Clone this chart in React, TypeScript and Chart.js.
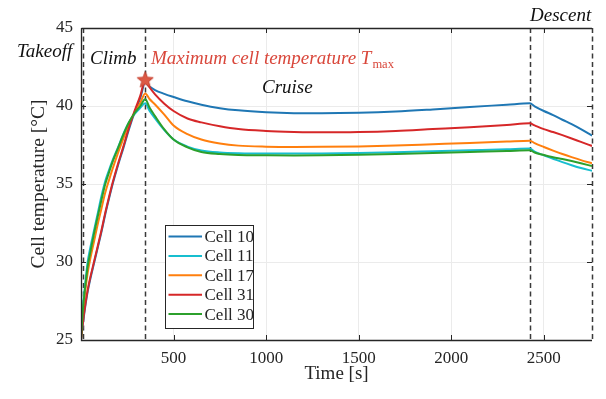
import React, { useEffect, useRef } from "react";
import { Chart, registerables } from "chart.js";

Chart.register(...registerables);

// Mission time stamps [s]: climb, cruise, descent
const timeS = [
  0, 10, 20, 36, 50, 70, 90, 110, 130, 150, 170, 200, 230, 260, 290, 320, 347,
  370, 400, 450, 500, 575, 650, 750, 850, 1000, 1150, 1300, 1500, 1700, 1900, 2100, 2300, 2424,
  2450, 2500, 2550, 2600, 2650, 2700, 2760,
];

// Cell temperatures [°C]
const cell10 = [
  25, 26.0, 26.9, 28.1, 28.9, 29.9, 30.9, 31.9, 33.0, 34.0, 34.95, 36.2, 37.35, 38.55, 39.6, 40.5, 41.5,
  41.25, 41.02, 40.78, 40.58, 40.3, 40.08, 39.86, 39.72, 39.6, 39.54, 39.53, 39.56, 39.64, 39.78, 39.94, 40.08, 40.17,
  39.98, 39.68, 39.42, 39.12, 38.84, 38.52, 38.1,
];
const cell11 = [
  25, 27.1, 28.3, 30.0, 30.9, 32.0, 33.1, 34.2, 35.15, 35.85, 36.5, 37.35, 38.25, 38.98, 39.5, 39.88, 40.17,
  39.7, 39.2, 38.45, 37.85, 37.4, 37.15, 37.02, 36.97, 36.95, 36.95, 36.96, 36.99, 37.04, 37.1, 37.16, 37.22, 37.27,
  37.08, 36.84, 36.62, 36.4, 36.2, 36.02, 35.85,
];
const cell17 = [
  25, 26.6, 27.8, 29.3, 30.2, 31.3, 32.4, 33.4, 34.4, 35.2, 35.95, 37.0, 37.95, 38.9, 39.6, 40.2, 40.8,
  40.45, 40.1, 39.45, 38.75, 38.2, 37.85, 37.6, 37.46, 37.39, 37.37, 37.38, 37.41, 37.47, 37.55, 37.63, 37.72, 37.78,
  37.62, 37.37, 37.14, 36.92, 36.72, 36.53, 36.33,
];
const cell31 = [
  25, 26.1, 27.0, 28.2, 29.0, 30.0, 31.0, 32.0, 33.1, 34.1, 35.05, 36.3, 37.45, 38.65, 39.7, 40.65, 41.65,
  41.2, 40.75, 40.15, 39.68, 39.2, 38.95, 38.7, 38.52, 38.4, 38.34, 38.31, 38.33, 38.4, 38.52, 38.64, 38.78, 38.89,
  38.76, 38.52, 38.33, 38.13, 37.92, 37.7, 37.44,
];
const cell30 = [
  25, 26.9, 28.1, 29.7, 30.6, 31.8, 32.9, 33.95, 34.95, 35.7, 36.4, 37.3, 38.2, 38.98, 39.55, 40.0, 40.43,
  39.9, 39.35, 38.5, 37.85, 37.35, 37.05, 36.92, 36.86, 36.84, 36.83, 36.84, 36.87, 36.92, 36.98, 37.05, 37.11, 37.16,
  37.02, 36.86, 36.72, 36.6, 36.47, 36.33, 36.15,
];

const seriesNames = ["Cell 10", "Cell 11", "Cell 17", "Cell 31", "Cell 30"];
const seriesValues = [cell10, cell11, cell17, cell31, cell30];
const seriesColors = ["#1f77b4", "#17becf", "#ff7f0e", "#d62728", "#2ca02c"];

const xTicks = [500, 1000, 1500, 2000, 2500];
const yTicks = [25, 30, 35, 40, 45];
// Phase boundaries [s]: takeoff, end of climb, start of descent, end of flight
const phaseBounds = [9, 347, 2424, 2760];

const SERIF = '"Liberation Serif", "Times New Roman", serif';
const INK = "#262626";
const RED_TEXT = "#d9473b";

function makeStar(): HTMLCanvasElement {
  const c = document.createElement("canvas");
  c.width = 20;
  c.height = 20;
  const g = c.getContext("2d")!;
  g.beginPath();
  for (let k = 0; k < 10; k++) {
    const r = k % 2 === 0 ? 8.5 : 3.7;
    const a = -Math.PI / 2 + (k * Math.PI) / 5;
    const px = 10 + r * Math.cos(a);
    const py = 10 + r * Math.sin(a);
    if (k === 0) g.moveTo(px, py);
    else g.lineTo(px, py);
  }
  g.closePath();
  g.fillStyle = "#dc5a45";
  g.fill();
  g.strokeStyle = "#c8402f";
  g.lineWidth = 1;
  g.stroke();
  return c;
}

export default function App() {
  const ref = useRef<HTMLCanvasElement | null>(null);

  useEffect(() => {
    if (!ref.current) return;

    // Highest temperature reached across all cells
    let peakT = 0;
    let peakV = -Infinity;
    seriesValues.forEach((vals) =>
      vals.forEach((v, j) => {
        if (v > peakV) {
          peakV = v;
          peakT = timeS[j];
        }
      })
    );

    const lineSets = seriesValues.map((vals, i) => ({
      type: "line" as const,
      label: seriesNames[i],
      data: timeS.map((t, j) => ({ x: t, y: vals[j] })),
      borderColor: seriesColors[i],
      backgroundColor: seriesColors[i],
      borderWidth: 2,
      pointRadius: 0,
      cubicInterpolationMode: "monotone" as const,
      fill: false,
      order: 10 - i,
    }));

    const starSet = {
      type: "line" as const,
      label: "Tmax",
      data: [{ x: peakT, y: peakV }],
      showLine: false,
      pointStyle: makeStar(),
      pointRadius: 9,
      order: 0,
    };

    const overlay = {
      id: "overlay",
      beforeDatasetsDraw(chart: any) {
        const { ctx, chartArea: a, scales } = chart;
        ctx.save();
        ctx.strokeStyle = "#3a3a3a";
        ctx.lineWidth = 1.5;
        ctx.setLineDash([5, 3.5]);
        phaseBounds.forEach((t) => {
          const x = Math.round(scales.x.getPixelForValue(t)) + 0.5;
          ctx.beginPath();
          ctx.moveTo(x, a.top);
          ctx.lineTo(x, a.bottom);
          ctx.stroke();
        });
        ctx.restore();
      },
      afterDatasetsDraw(chart: any) {
        const { ctx, chartArea: a, scales } = chart;
        ctx.save();
        ctx.strokeStyle = INK;
        ctx.lineWidth = 1.3;
        ctx.setLineDash([]);
        ctx.beginPath();
        ctx.moveTo(a.left + 0.5, a.top + 0.5);
        ctx.lineTo(a.right, a.top + 0.5);
        ctx.moveTo(a.left + 0.5, a.top);
        ctx.lineTo(a.left + 0.5, a.bottom + 0.5);
        ctx.lineTo(a.right, a.bottom + 0.5);
        ctx.stroke();
        // inward ticks
        ctx.lineWidth = 1;
        ctx.beginPath();
        xTicks.forEach((v) => {
          const x = Math.round(scales.x.getPixelForValue(v)) + 0.5;
          ctx.moveTo(x, a.bottom);
          ctx.lineTo(x, a.bottom - 5);
          ctx.moveTo(x, a.top);
          ctx.lineTo(x, a.top + 5);
        });
        yTicks.forEach((v) => {
          const y = Math.round(scales.y.getPixelForValue(v)) + 0.5;
          ctx.moveTo(a.left, y);
          ctx.lineTo(a.left + 5, y);
          ctx.moveTo(a.right, y);
          ctx.lineTo(a.right - 5, y);
        });
        ctx.stroke();
        ctx.restore();
      },
      afterDraw(chart: any) {
        const { ctx } = chart;
        ctx.save();
        ctx.textBaseline = "alphabetic";
        ctx.textAlign = "left";
        ctx.font = `italic 19px ${SERIF}`;
        ctx.fillStyle = "#111";
        ctx.fillText("Takeoff", 17, 57);
        ctx.fillText("Climb", 90, 64);
        ctx.fillText("Cruise", 262, 93);
        ctx.fillText("Descent", 530, 21);

        ctx.fillStyle = RED_TEXT;
        const head = "Maximum cell temperature ";
        ctx.fillText(head, 151, 64);
        let x = 151 + ctx.measureText(head).width;
        ctx.fillText("T", x, 64);
        x += ctx.measureText("T").width + 1;
        ctx.font = `12.5px ${SERIF}`;
        ctx.fillText("max", x, 68);

        // legend
        const lx = 165.5, ly = 225.5, lw = 88, lh = 103;
        ctx.fillStyle = "#ffffff";
        ctx.fillRect(lx, ly, lw, lh);
        ctx.strokeStyle = INK;
        ctx.lineWidth = 1;
        ctx.strokeRect(lx, ly, lw, lh);
        ctx.font = `17px ${SERIF}`;
        ctx.textBaseline = "middle";
        seriesNames.forEach((name, i) => {
          const y = 236.5 + i * 19.4;
          ctx.strokeStyle = seriesColors[i];
          ctx.lineWidth = 2;
          ctx.beginPath();
          ctx.moveTo(168.5, y);
          ctx.lineTo(202, y);
          ctx.stroke();
          ctx.fillStyle = INK;
          ctx.fillText(name, 204.5, y + 1);
        });
        ctx.restore();
      },
    };

    const chart = new Chart(ref.current, {
      type: "line",
      data: { datasets: [...lineSets, starSet] as any },
      options: {
        responsive: false,
        animation: false,
        devicePixelRatio: 1,
        layout: { padding: { top: 28, right: 14, left: 0, bottom: 0 } },
        plugins: { legend: { display: false }, tooltip: { enabled: false } },
        scales: {
          x: {
            type: "linear",
            min: 0,
            max: 2760,
            afterBuildTicks: (s: any) => {
              s.ticks = xTicks.map((v) => ({ value: v }));
            },
            afterFit: (s: any) => {
              s.height = 59;
            },
            grid: { color: "#ebebeb", lineWidth: 1, drawTicks: false },
            border: { display: false },
            ticks: {
              font: { family: SERIF, size: 17 },
              color: INK,
              padding: 8,
              maxRotation: 0,
              callback: (v: any) => String(v),
            },
            title: {
              display: true,
              text: "Time [s]",
              font: { family: SERIF, size: 19 },
              color: INK,
              padding: { top: 0, bottom: 13.6 },
            },
          },
          y: {
            type: "linear",
            min: 25,
            max: 45,
            afterBuildTicks: (s: any) => {
              s.ticks = yTicks.map((v) => ({ value: v }));
            },
            afterFit: (s: any) => {
              s.width = 81;
            },
            grid: { color: "#ebebeb", lineWidth: 1, drawTicks: false },
            border: { display: false },
            ticks: {
              font: { family: SERIF, size: 17 },
              color: INK,
              padding: 8,
              callback: (v: any) => String(v),
            },
            title: {
              display: true,
              text: "Cell temperature [°C]",
              font: { family: SERIF, size: 19.5 },
              color: INK,
              padding: { top: 27, bottom: 0 },
            },
          },
        },
      },
      plugins: [overlay],
    });

    return () => chart.destroy();
  }, []);

  return (
    <div style={{ position: "absolute", left: 0, top: 0, width: 606, height: 399, background: "#fff" }}>
      <canvas ref={ref} width={606} height={399} style={{ display: "block" }} />
    </div>
  );
}
